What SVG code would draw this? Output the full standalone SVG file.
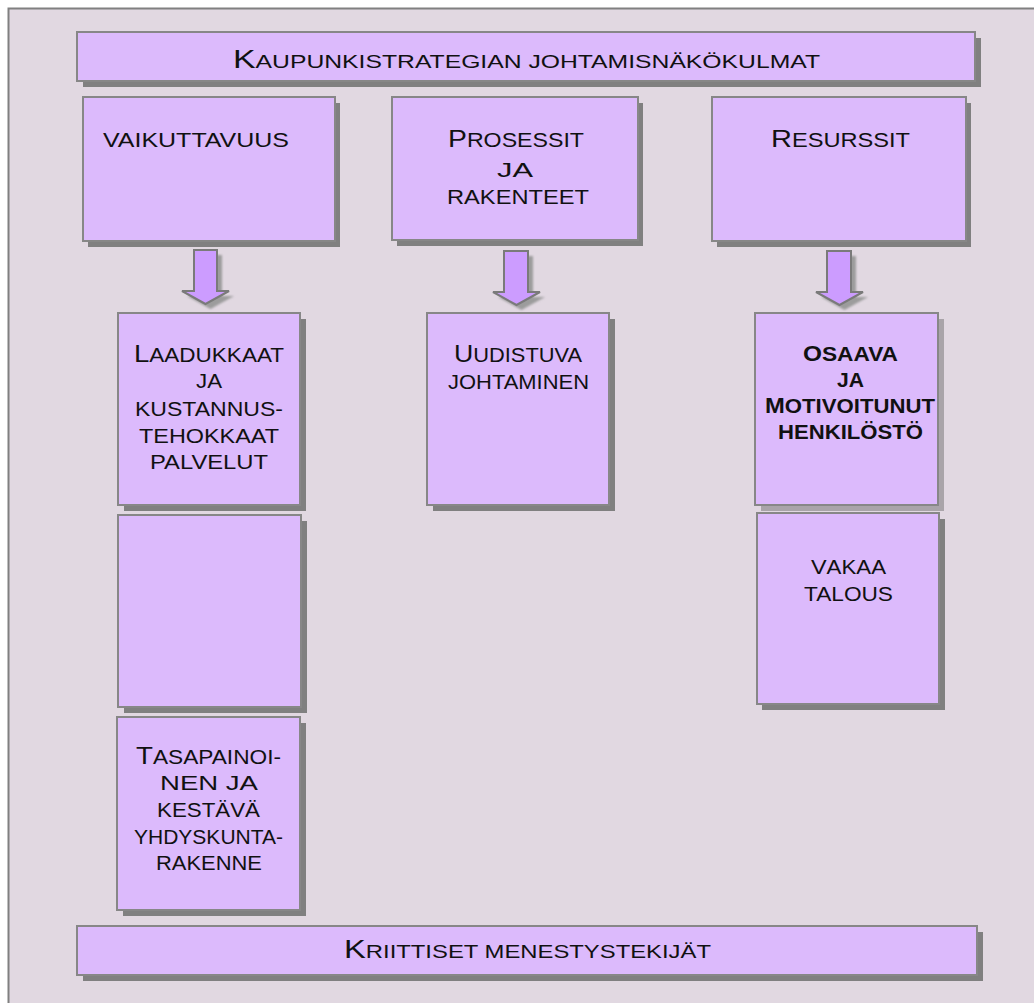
<svg xmlns="http://www.w3.org/2000/svg" width="1034" height="1003" viewBox="0 0 1034 1003">
  <defs>
    <style>
      .frame { fill: #E1D8E1; stroke: #808080; stroke-width: 2; }
      .shadow { fill: #808080; }
      .shadow-soft { fill: #A9A4A9; }
      .box { fill: #DCBAFC; stroke: #878787; stroke-width: 2; }
      .arrow { fill: #CC9CFF; stroke: #7A7A7A; stroke-width: 2; stroke-linejoin: miter; }
      .arrow-shadow { fill: #9C9C9C; filter: url(#soft); }
      text { font-family: "Liberation Sans", Arial, sans-serif; fill: #111; text-transform: uppercase; }
      .head { font-size: 18.6px; }
      .head .c { font-size: 25.5px; }
      .t { font-size: 20px; }
      .t .c { font-size: 24.5px; }
      .bold { font-weight: bold; }
    </style>
    <filter id="soft" x="-20%" y="-20%" width="140%" height="140%">
      <feGaussianBlur stdDeviation="1"/>
    </filter>
  </defs>

  <!-- background panel -->
  <rect class="frame" x="8.5" y="8.5" width="1040" height="1010"/>

  <!-- heading bar -->
  <g id="heading">
    <rect class="shadow" x="83" y="38" width="898" height="49"/>
    <rect class="box" x="77" y="32" width="898" height="49"/>
    <text class="head" x="233" y="68" textLength="587" lengthAdjust="spacingAndGlyphs"><tspan class="c">K</tspan>aupunkistrategian johtamisnäkökulmat</text>
  </g>

  <!-- perspective boxes -->
  <g id="vaikuttavuus">
    <rect class="shadow" x="88" y="103" width="252" height="144"/>
    <rect class="box" x="83" y="97" width="252" height="144"/>
    <text class="t" font-size="21.5" x="103" y="147" textLength="186" lengthAdjust="spacingAndGlyphs">vaikuttavuus</text>
  </g>

  <g id="prosessit">
    <rect class="shadow" x="397" y="103" width="246" height="143"/>
    <rect class="box" x="392" y="97" width="246" height="143"/>
    <text class="t" x="448" y="147" textLength="136" lengthAdjust="spacingAndGlyphs"><tspan class="c">P</tspan>rosessit</text>
    <text class="t" x="497" y="177" textLength="36" lengthAdjust="spacingAndGlyphs">ja</text>
    <text class="t" x="447" y="204" textLength="142" lengthAdjust="spacingAndGlyphs">rakenteet</text>
  </g>

  <g id="resurssit">
    <rect class="shadow" x="717" y="103" width="254" height="144"/>
    <rect class="box" x="712" y="97" width="254" height="144"/>
    <text class="t" x="771" y="147" textLength="139" lengthAdjust="spacingAndGlyphs"><tspan class="c">R</tspan>esurssit</text>
  </g>

  <!-- success factor boxes -->
  <g id="laadukkaat">
    <rect class="shadow" x="124" y="319" width="182" height="192"/>
    <rect class="box" x="118" y="313" width="182" height="192"/>
    <text class="t" x="134" y="362" textLength="150" lengthAdjust="spacingAndGlyphs"><tspan class="c">L</tspan>aadukkaat</text>
    <text class="t" x="196" y="388" textLength="26" lengthAdjust="spacingAndGlyphs">ja</text>
    <text class="t" x="135" y="416" textLength="148" lengthAdjust="spacingAndGlyphs">kustannus-</text>
    <text class="t" x="139" y="443" textLength="140" lengthAdjust="spacingAndGlyphs">tehokkaat</text>
    <text class="t" x="150" y="469" textLength="118" lengthAdjust="spacingAndGlyphs">palvelut</text>
  </g>

  <g id="tyhja">
    <rect class="shadow" x="124" y="521" width="183" height="192"/>
    <rect class="box" x="118" y="515" width="183" height="192"/>
  </g>

  <g id="tasapainoinen">
    <rect class="shadow" x="123" y="723" width="183" height="193"/>
    <rect class="box" x="117" y="717" width="183" height="193"/>
    <text class="t" x="136" y="764" textLength="145" lengthAdjust="spacingAndGlyphs"><tspan class="c">T</tspan>asapainoi-</text>
    <text class="t" x="160" y="790" textLength="98" lengthAdjust="spacingAndGlyphs">nen ja</text>
    <text class="t" x="157" y="817" textLength="103" lengthAdjust="spacingAndGlyphs">kestävä</text>
    <text class="t" x="134" y="844" textLength="149" lengthAdjust="spacingAndGlyphs">yhdyskunta-</text>
    <text class="t" x="156" y="870" textLength="106" lengthAdjust="spacingAndGlyphs">rakenne</text>
  </g>

  <g id="uudistuva">
    <rect class="shadow" x="433" y="319" width="182" height="192"/>
    <rect class="box" x="427" y="313" width="182" height="192"/>
    <text class="t" x="454" y="362" textLength="128" lengthAdjust="spacingAndGlyphs"><tspan class="c">U</tspan>udistuva</text>
    <text class="t" x="448" y="389" textLength="141" lengthAdjust="spacingAndGlyphs">johtaminen</text>
  </g>

  <g id="osaava">
    <rect class="shadow-soft" x="761" y="319" width="183" height="192"/>
    <rect class="box" x="755" y="313" width="183" height="192"/>
    <text class="t bold" font-size="17" x="803" y="361" textLength="95" lengthAdjust="spacingAndGlyphs"><tspan font-size="21.5">O</tspan>saava</text>
    <text class="t bold" font-size="17" x="837" y="387" textLength="27" lengthAdjust="spacingAndGlyphs">ja</text>
    <text class="t bold" font-size="17" x="765" y="413" textLength="170" lengthAdjust="spacingAndGlyphs"><tspan font-size="21.5">M</tspan>otivoitunut</text>
    <text class="t bold" font-size="17" x="778" y="439" textLength="145" lengthAdjust="spacingAndGlyphs">henkilöstö</text>
  </g>

  <g id="vakaa">
    <rect class="shadow" x="762" y="519" width="183" height="191"/>
    <rect class="box" x="757" y="513" width="182" height="191"/>
    <text class="t" font-size="18.7" x="811" y="574" textLength="75" lengthAdjust="spacingAndGlyphs"><tspan font-size="21">V</tspan>akaa</text>
    <text class="t" font-size="18.7" x="804" y="601" textLength="89" lengthAdjust="spacingAndGlyphs">talous</text>
  </g>

  <!-- footer bar -->
  <g id="kriittiset">
    <rect class="shadow" x="83" y="932" width="900" height="49"/>
    <rect class="box" x="77" y="926" width="900" height="49"/>
    <text class="head" x="344" y="958" textLength="367" lengthAdjust="spacingAndGlyphs"><tspan class="c">K</tspan>riittiset menestystekijät</text>
  </g>

  <!-- downward arrows -->
  <g id="connectors">
    <polygon class="arrow-shadow" points="199,255 222,255 222,296 234,296 210.5,309 187,296 199,296"/>
    <polygon class="arrow" points="194,250 217,250 217,291 229,291 205.5,304 182,291 194,291"/>

    <polygon class="arrow-shadow" points="509,256 533,256 533,297 545,297 521.5,310 498,297 509,297"/>
    <polygon class="arrow" points="504,251 528,251 528,292 540,292 516.5,305 493,292 504,292"/>

    <polygon class="arrow-shadow" points="832,256 856,256 856,297 868,297 844.5,310 821,297 832,297"/>
    <polygon class="arrow" points="827,251 851,251 851,292 863,292 839.5,305 816,292 827,292"/>
  </g>
</svg>
